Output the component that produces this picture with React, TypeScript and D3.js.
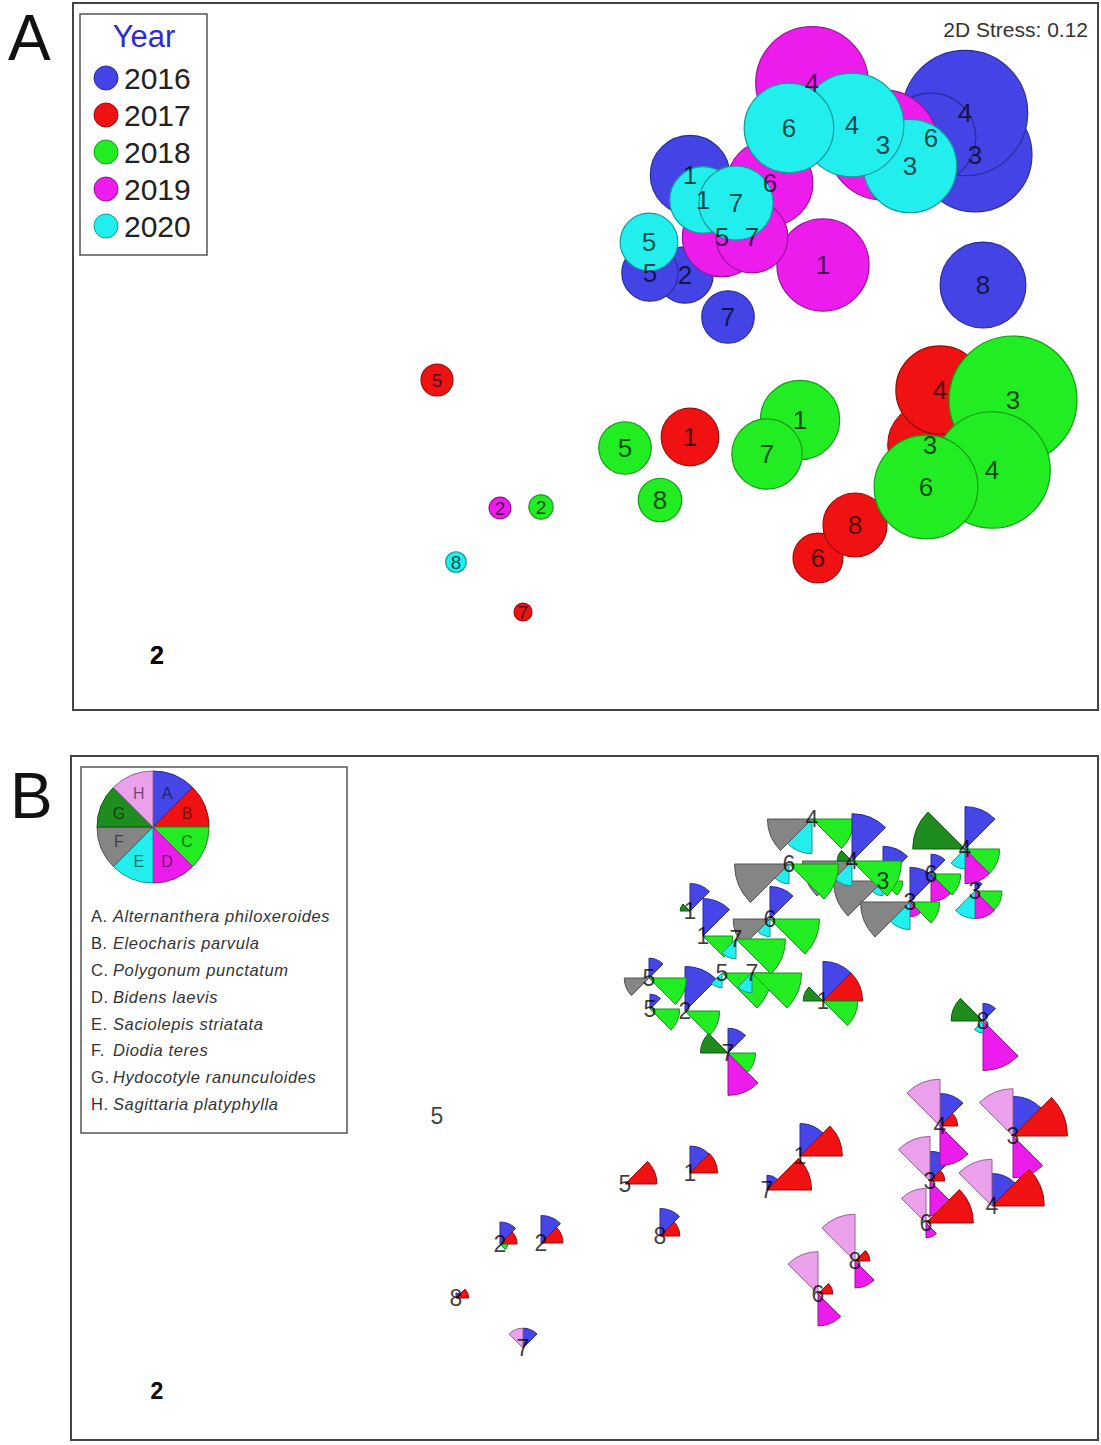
import React from 'react';
import * as d3 from 'd3';

// ---------- data ----------
const years = ['2016', '2017', '2018', '2019', '2020'];
const yearColors = ['#4444E6', '#F01212', '#22EC22', '#EC1CEC', '#22EEEE'];

const speciesCodes = ['A', 'B', 'C', 'D', 'E', 'F', 'G', 'H'];
const speciesNames = [
  'Alternanthera philoxeroides',
  'Eleocharis parvula',
  'Polygonum punctatum',
  'Bidens laevis',
  'Saciolepis striatata',
  'Diodia teres',
  'Hydocotyle ranunculoides',
  'Sagittaria platyphylla',
];
const speciesColors = ['#4646E8', '#F01212', '#22EC22', '#EC1CEC', '#22EEEE', '#858585', '#1E8C1E', '#EBA0EB'];

// samples (year index, site)
const sampleYear = [0,0,0,0,0,0,0,0, 1,1,1,1,1,1,1,1, 2,2,2,2,2,2,2,2, 3,3,3,3,3,3,3, 4,4,4,4,4,4,4,4];
const sampleSite = [1,2,3,4,5,6,7,8, 1,2,3,4,5,6,7,8, 1,2,3,4,5,6,7,8, 1,2,3,4,5,6,7, 1,2,3,4,5,6,7,8];
// nMDS coordinates
const mds1 = [0.525,0.50,1.95,1.90,0.325,1.73,0.715,1.99, 0.525,-2.14,1.725,1.775,-0.74,1.165,-0.31,1.35, 1.075,-0.22,2.14,2.035,0.2,1.705,0.91,0.375, 1.19,-0.425,1.49,1.135,0.685,0.925,0.835, 0.59,-2.14,1.625,1.335,0.32,1.02,0.755,-0.645];
const mds2 = [0.875,0.375,0.975,1.185,0.385,1.06,0.165,0.325, -0.435,-1.525,-0.475,-0.2,-0.15,-1.04,-1.31,-0.875, -0.35,-0.785,-0.25,-0.6,-0.49,-0.685,-0.52,-0.75, 0.425,-0.79,1.025,1.335,0.565,0.835,0.565, 0.75,-1.525,0.92,1.125,0.54,1.11,0.735,-1.06];
// bubble size (panel A)
const bubble = [62,44,89,98,44,70,41,67, 45,0,66,69,25,39,14,50, 62,19,100,91,41,81,55,34, 72,17,86,88,62,67,56, 52,0,73,81,45,70,58,16];
// species abundances (panel B segments)
const spA = [50,81,18,77,27,36,45,32, 49,0,54,59,0,0,36,0, 59,50,72,59,0,0,27,50, 72,40,63,0,0,59,0, 68,0,63,86,36,0,0,9];
const spB = [0,0,0,0,0,0,0,0, 50,0,27,32,0,27,0,27, 77,40,99,95,58,86,81,36, 72,31,0,0,0,0,0, 0,0,0,0,0,0,0,23];
const spC = [0,63,49,63,54,54,50,0, 0,0,0,0,0,0,0,0, 0,0,0,0,0,0,0,0, 63,14,36,76,90,90,90, 54,0,54,90,68,90,90,0];
const spD = [0,0,50,63,0,50,77,90, 0,0,63,72,0,58,0,49, 0,0,76,0,0,27,0,0, 0,0,0,0,0,0,0, 0,0,27,0,0,0,0,0];
const spE = [0,0,50,36,0,0,0,22, 0,0,0,0,0,0,0,0, 0,0,0,0,0,0,0,0, 0,0,27,63,27,32,36, 0,0,50,45,0,36,36,0];
const spF = [0,0,0,0,0,0,0,0, 0,0,0,0,0,0,0,0, 0,0,0,0,0,0,0,0, 0,0,90,81,0,67,0, 0,0,90,90,45,99,0,0];
const spG = [18,0,0,95,0,0,50,58, 0,0,0,0,0,0,0,0, 0,0,0,0,0,0,0,0, 36,0,0,0,0,0,0, 0,0,0,27,0,0,0,0];
const spH = [0,0,0,0,0,0,0,0, 0,0,81,85,0,77,36,85, 0,0,86,85,0,63,0,0, 0,0,0,0,0,0,0, 0,0,0,0,0,0,0,0];

const stressLabel = '2D Stress: 0.12';

// ---------- layout ----------
const W = 1101;
const H = 1445;
const FONT = '"Liberation Sans", Arial, Helvetica, sans-serif';

const xScale = d3.scaleLinear().domain([-2.5, 2.5]).range([85, 1085]);
const yScaleA = d3.scaleLinear().domain([-1.5, 1.5]).range([650, 50]);
const yScaleB = d3.scaleLinear().domain([-1.5, 1.5]).range([1386, 786]);
const rBubble = d3.scaleLinear().domain([0, 100]).range([0, 64]);
const rSeg = d3.scaleLinear().domain([0, 100]).range([0, 55]);

const species = [spA, spB, spC, spD, spE, spF, spG, spH];
const dark = (c: string, k = 1.2) => (d3.color(c) as d3.RGBColor).darker(k).formatHex();

const samples = sampleYear.map((y, i) => ({
  i,
  year: y,
  site: sampleSite[i],
  x: xScale(mds1[i]),
  yA: yScaleA(mds2[i]),
  yB: yScaleB(mds2[i]),
  r: rBubble(bubble[i]),
  seg: species.map((s) => s[i]),
}));

const arcGen = d3.arc<any>();
const segPath = (k: number, r: number) =>
  arcGen({ innerRadius: 0, outerRadius: r, startAngle: (k * Math.PI) / 4, endAngle: ((k + 1) * Math.PI) / 4 }) as string;

export default function App() {
  const legendPie = { cx: 153, cy: 827, r: 56 };
  return (
    <svg width={W} height={H} style={{ position: 'absolute', left: 0, top: 0, background: '#fff' }} fontFamily={FONT}>
      <rect x={0} y={0} width={W} height={H} fill="#fff" />

      {/* ===== Panel A ===== */}
      <text x={8} y={60} fontSize={64} fill="#111">A</text>
      <rect x={73} y={3} width={1025} height={707} fill="none" stroke="#444" strokeWidth={2} />
      <text x={1088} y={37} fontSize={21} fill="#333" textAnchor="end">{stressLabel}</text>

      {samples.map((s) =>
        s.r > 0 ? (
          <circle key={'c' + s.i} cx={s.x} cy={s.yA} r={s.r} fill={yearColors[s.year]} stroke={dark(yearColors[s.year])} strokeWidth={1.2} />
        ) : null
      )}
      {samples.map((s) => (
        <text
          key={'la' + s.i}
          x={s.x}
          y={s.yA}
          dy="0.36em"
          textAnchor="middle"
          fontSize={s.r === 0 ? 25 : s.r < 20 ? 19 : 26}
          fill="#000"
          fillOpacity={s.r === 0 ? 0.9 : 0.7}
          fontWeight={s.r === 0 ? 'bold' : 'normal'}
        >
          {s.site}
        </text>
      ))}

      {/* Year legend */}
      <rect x={80} y={14} width={127} height={241} fill="#fff" stroke="#555" strokeWidth={1.5} />
      <text x={144} y={47} fontSize={31} fill="#2B2BD0" textAnchor="middle">Year</text>
      {years.map((yr, k) => (
        <g key={yr}>
          <circle cx={106} cy={78 + k * 37} r={12} fill={yearColors[k]} stroke={dark(yearColors[k])} strokeWidth={1} />
          <text x={124} y={78 + k * 37} dy="0.36em" fontSize={30} fill="#222">{yr}</text>
        </g>
      ))}

      {/* ===== Panel B ===== */}
      <text x={10} y={818} fontSize={64} fill="#111">B</text>
      <rect x={71} y={756} width={1027} height={684} fill="none" stroke="#444" strokeWidth={2} />

      {samples.map((s) => (
        <g key={'g' + s.i} transform={`translate(${s.x},${s.yB})`}>
          {s.seg.map((v, k) =>
            v > 0 ? (
              <path key={k} d={segPath(k, rSeg(v))} fill={speciesColors[k]} stroke={dark(speciesColors[k], 1.3)} strokeWidth={1} />
            ) : null
          )}
        </g>
      ))}
      {samples.map((s) => (
        <text
          key={'lb' + s.i}
          x={s.x}
          y={s.yB}
          dy="0.36em"
          textAnchor="middle"
          fontSize={23}
          fill="#000"
          fillOpacity={0.75}
          fontWeight={s.r === 0 && s.seg.every((v) => v === 0) && s.site === 2 ? 'bold' : 'normal'}
        >
          {s.site}
        </text>
      ))}

      {/* Species legend */}
      <rect x={81} y={767} width={266} height={366} fill="#fff" stroke="#555" strokeWidth={1.5} />
      <g transform={`translate(${legendPie.cx},${legendPie.cy})`}>
        {speciesCodes.map((c, k) => (
          <path key={c} d={segPath(k, legendPie.r)} fill={speciesColors[k]} stroke={dark(speciesColors[k], 1.3)} strokeWidth={1} />
        ))}
        {speciesCodes.map((c, k) => {
          const a = ((k + 0.5) * Math.PI) / 4;
          const rr = legendPie.r * 0.66;
          return (
            <text key={'t' + c} x={rr * Math.sin(a)} y={-rr * Math.cos(a)} dy="0.36em" textAnchor="middle" fontSize={16} fill="#000" fillOpacity={0.55}>
              {c}
            </text>
          );
        })}
      </g>
      {speciesCodes.map((c, k) => (
        <text key={'n' + c} x={91} y={916 + k * 26.9} dy="0.36em" fontSize={16.5} letterSpacing={0.6} fill="#333">
          {c}.
          <tspan x={113} fontStyle="italic">{speciesNames[k]}</tspan>
        </text>
      ))}
    </svg>
  );
}
